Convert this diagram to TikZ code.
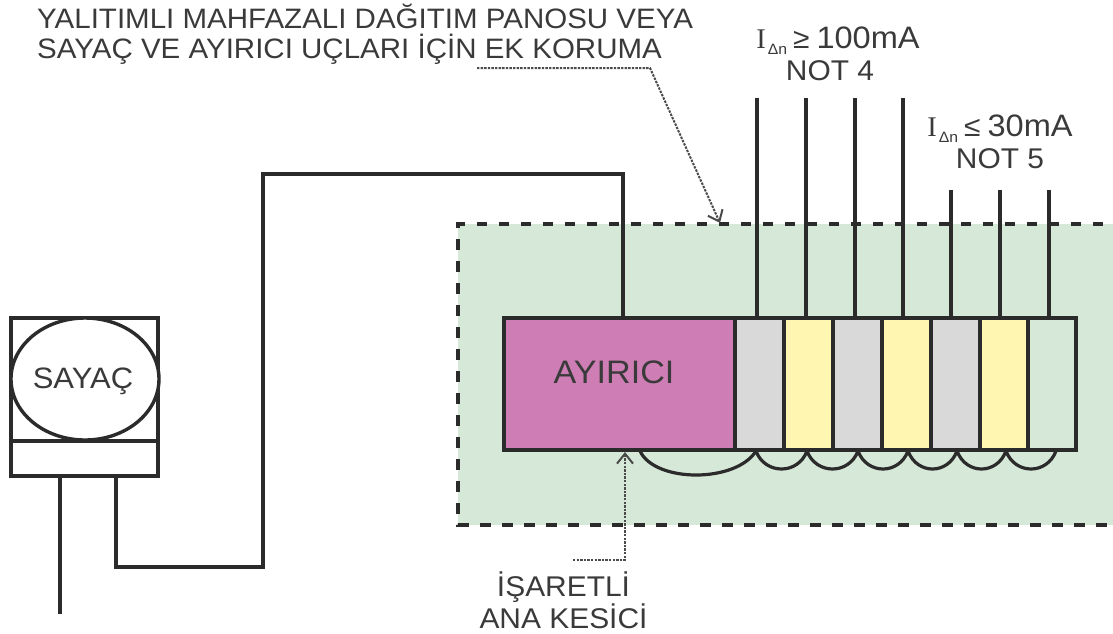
\documentclass[tikz,border=0pt]{standalone}
\usepackage{fontspec}
\setmainfont[FakeStretch=1.05]{Liberation Sans}
\newfontfamily\serifI{Liberation Serif}
\usetikzlibrary{arrows.meta}
\definecolor{ink}{HTML}{2B2B2B}
\definecolor{txt}{HTML}{3A3A3A}
\definecolor{panelgreen}{HTML}{D6E8D8}
\definecolor{isopink}{HTML}{CE7EB5}
\definecolor{cellgray}{HTML}{D9D9D9}
\definecolor{cellyellow}{HTML}{FFF6B2}
\tikzset{
  wire/.style={draw=ink,line width=3.4pt,line cap=butt,line join=miter},
  thinwire/.style={draw=ink,line width=3.2pt},
  cell/.style={draw=ink,line width=3.4pt,anchor=north west,minimum height=132pt,inner sep=0pt,outer sep=0pt},
  leader/.style={draw=ink!85,line width=2pt,dash pattern=on 2.4pt off 1.2pt},
  tip/.style={-{Straight Barb[length=10pt,width=16pt,line width=2pt]}},
  label/.style={text=txt,inner sep=0pt,align=center,font=\fontsize{28.5}{32}\selectfont},
}
\newcommand{\idn}[2]{{\serifI I}\raisebox{-6pt}{\fontsize{15}{15}\selectfont\kern2pt Δn}\kern6pt#1\kern7pt{\fontsize{31}{32}\selectfont #2}}
\begin{document}
\begin{tikzpicture}[x=1pt,y=-1pt]
\useasboundingbox (0,0) rectangle (1113,633);
\fill[panelgreen] (458,224) rectangle (1113,525);
\draw[ink,line width=3.6pt,dash pattern=on 10.5pt off 11.5pt] (1125,224) coordinate (pa) -- (458,224) -- (458,525) -- (1125,525) coordinate (pb);
\node[cell,fill=isopink,minimum width=231pt] (iso) at (504,318) {};
\node[cell,fill=cellgray,minimum width=49pt] (c1) at (735,318) {};
\node[cell,fill=cellyellow,minimum width=49pt] (c2) at (784,318) {};
\node[cell,fill=cellgray,minimum width=49pt] (c3) at (833,318) {};
\node[cell,fill=cellyellow,minimum width=49pt] (c4) at (882,318) {};
\node[cell,fill=cellgray,minimum width=49pt] (c5) at (931,318) {};
\node[cell,fill=cellyellow,minimum width=48pt] (c6) at (980,318) {};
\node[cell,fill=panelgreen,minimum width=48pt] (c7) at (1028,318) {};
\node[label,font=\fontsize{32.5}{32.5}\selectfont] (isot) at (614,372) {AYIRICI};
\node[draw=ink,line width=3.4pt,anchor=north west,minimum width=147pt,minimum height=123pt,inner sep=0pt,outer sep=0pt] (mtop) at (11,318) {};
\node[draw=ink,line width=3.4pt,anchor=north west,minimum width=147pt,minimum height=35pt,inner sep=0pt,outer sep=0pt] (mbot) at (11,441) {};
\draw[ink,line width=3.4pt,fill=white] (85,379) ellipse [x radius=74pt,y radius=61pt];
\node[label,font=\fontsize{29.5}{29.5}\selectfont] (mt) at (83,381) {SAYAÇ};
\coordinate (gnd) at (60,614);
\draw[wire] (60,476) -- (gnd);
\coordinate (w1) at (116,567);
\coordinate (w2) at (263,567);
\coordinate (w3) at (263,174);
\coordinate (w4) at (623,174);
\draw[wire] (116,476) -- (w1) -- (w2) -- (w3) -- (w4) -- (623,318);
\foreach \n/\x in {a/757,b/806,c/855,d/903}{
  \coordinate (o\n) at (\x,98);
  \draw[thinwire] (o\n) -- (\x,318);
}
\foreach \n/\x in {e/951,f/1000,g/1049}{
  \coordinate (o\n) at (\x,190);
  \draw[thinwire] (o\n) -- (\x,318);
}
\coordinate (j0) at (640,451);
\coordinate (j1) at (756,451);
\coordinate (j2) at (807,451);
\coordinate (j3) at (858,451);
\coordinate (j4) at (908,451);
\coordinate (j5) at (957,451);
\coordinate (j6) at (1006,451);
\coordinate (j7) at (1056,451);
\draw[wire,line width=3.2pt] (j0) .. controls (655,483) and (736,483) .. (j1);
\foreach \a/\b/\ca/\cb in {j1/j2/765/798,j2/j3/816/849,j3/j4/867/899,j4/j5/917/948,j5/j6/966/997,j6/j7/1015/1047}{
  \draw[wire,line width=3.2pt] (\a) .. controls (\ca,475) and (\cb,475) .. (\b);
}
\coordinate (l1) at (477,68);
\coordinate (l2) at (650,68);
\coordinate (l3) at (720,223);
\draw[leader,tip] (l1) -- (l2) -- (l3);
\coordinate (m1) at (573,560);
\coordinate (m2) at (625,560);
\coordinate (m3) at (625,452);
\draw[leader,tip] (m1) -- (m2) -- (m3);
\node[label,anchor=north west,align=left,font=\fontsize{28.1}{30.5}\selectfont] (title) at (37,3.5) {YALITIMLI MAHFAZALI DAĞITIM PANOSU VEYA\\SAYAÇ VE AYIRICI UÇLARI İÇİN EK KORUMA};
\node[label] (n1) at (838,53.5) {\idn{≥}{100mA}\\NOT 4\kern16pt};
\node[label] (n2) at (1000,141.5) {\idn{≤}{30mA}\\NOT 5};
\node[label] (n3) at (563.5,600) {İŞARETLİ\\ANA KESİCİ};
\end{tikzpicture}
\end{document}
